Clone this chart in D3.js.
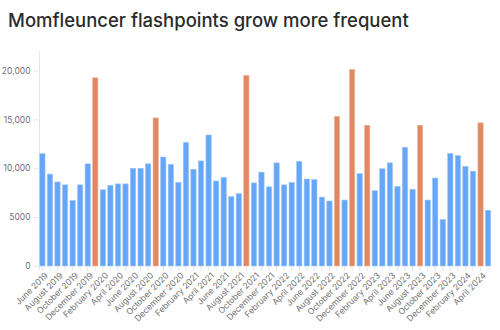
<!DOCTYPE html>
<html>
<head>
<meta charset="utf-8">
<script src="https://cdn.jsdelivr.net/npm/d3@7"></script>
<style>
  html, body { margin: 0; padding: 0; background: #fff; }
  svg { display: block; }
</style>
</head>
<body>
<svg id="chart" width="500" height="330"></svg>
<script>
const title = "Momfleuncer flashpoints grow more frequent";

const monthNames = ["January","February","March","April","May","June","July","August","September","October","November","December"];

// Monthly values, June 2019 – May 2024
const values = [
  11500, 9400, 8600, 8300, 6700, 8300, 10450, 19250,
  7800, 8250, 8400, 8400, 10000, 10000, 10450, 15150,
  11150, 10400, 8550, 12650, 9900, 10750, 13400, 8700,
  9050, 7100, 7400, 19500,
  8500, 9600, 8100, 10550, 8300, 8550, 10700, 8900,
  8850, 7050, 6650, 15300, 6750, 20100, 9450, 14400,
  7700, 9950, 10550, 8150, 12150, 7850, 14400, 6750,
  9000, 4750, 11500, 11300, 10200, 9700, 14650, 5700
];

// Flashpoint months (highlighted)
const highlights = [
  "January 2020", "September 2020", "September 2021",
  "September 2022", "November 2022", "January 2023",
  "August 2023", "April 2024"
];

const categories = values.map((v, i) => {
  const m = (5 + i) % 12;
  const y = 2019 + Math.floor((5 + i) / 12);
  return monthNames[m] + " " + y;
});

const yTicks = [0, 5000, 10000, 15000, 20000];
const yTickLabels = ["0", "5000", "10,000", "15,000", "20,000"];

const svg = d3.select("#chart");

svg.append("text")
  .attr("x", 8)
  .attr("y", 27)
  .attr("font-family", "Inter, 'Noto Sans', sans-serif")
  .attr("font-size", 18.5)
  .attr("font-weight", 500)
  .attr("fill", "#2b2b2b")
  .text(title);

const x = d3.scaleBand()
  .domain(categories)
  .range([39, 491.5])
  .paddingInner(0.3)
  .paddingOuter(0.1);

const y = d3.scaleLinear()
  .domain([0, 22000])
  .range([266, 266 - 195.5 * 22000 / 20000]);

// left axis line
svg.append("line")
  .attr("x1", 39.5).attr("x2", 39.5)
  .attr("y1", y(22000)).attr("y2", 270)
  .attr("stroke", "#e6e6e6").attr("stroke-width", 1);

// y axis
const yAxis = d3.axisLeft(y)
  .tickValues(yTicks)
  .tickFormat((d, i) => yTickLabels[i])
  .tickSize(5)
  .tickPadding(3);

const gy = svg.append("g")
  .attr("transform", "translate(38.5,0)")
  .call(yAxis);
gy.select(".domain").remove();
gy.selectAll(".tick line").attr("stroke", "#e6e6e6");
gy.selectAll(".tick text")
  .attr("fill", "#707070")
  .attr("font-family", "Inter, 'Noto Sans', sans-serif")
  .attr("font-size", 8.5);

// bars
svg.append("g")
  .selectAll("rect")
  .data(values)
  .join("rect")
  .attr("x", (d, i) => x(categories[i]))
  .attr("y", d => y(d))
  .attr("width", x.bandwidth())
  .attr("height", d => y(0) - y(d))
  .attr("fill", (d, i) => highlights.includes(categories[i]) ? "#e08863" : "#65a6f8")
  .attr("stroke", (d, i) => highlights.includes(categories[i]) ? "#f0b49a" : "#9cc6fa")
  .attr("stroke-width", 0.6);

// x axis
const xAxis = d3.axisBottom(x)
  .tickSize(5)
  .tickFormat((d, i) => i % 2 === 0 ? d : "");

const gx = svg.append("g")
  .attr("transform", "translate(0,266)")
  .call(xAxis);
gx.select(".domain").remove();
gx.selectAll(".tick line").attr("stroke", "#e6e6e6");
gx.selectAll(".tick text")
  .attr("fill", "#707070")
  .attr("font-family", "Inter, 'Noto Sans', sans-serif")
  .attr("font-size", 8.5)
  .attr("text-anchor", "end")
  .attr("y", 0)
  .attr("dy", "0")
  .attr("transform", "translate(6,10) rotate(-45)");
</script>
</body>
</html>
